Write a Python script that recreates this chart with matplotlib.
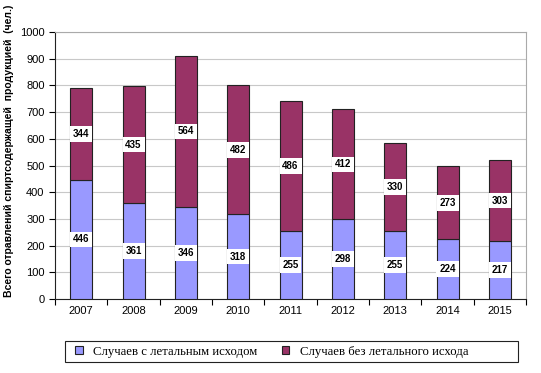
import numpy as np
import matplotlib.pyplot as plt
from matplotlib.patches import Rectangle

years = ['2007', '2008', '2009', '2010', '2011', '2012', '2013', '2014', '2015']
fatal = [446, 361, 346, 318, 255, 298, 255, 224, 217]
nonfatal = [344, 435, 564, 482, 486, 412, 330, 273, 303]

plt.rcParams['font.family'] = ['Liberation Sans', 'DejaVu Sans']

fig = plt.figure(figsize=(5.41, 3.73), dpi=100)
ax = fig.add_axes([0.1017, 0.1984, 0.8706, 0.7158])

x = np.arange(len(years))
w = 0.42
b1 = ax.bar(x, fatal, w, color='#9999ff', edgecolor='#222222', linewidth=0.8,
            label='Случаев с летальным исходом', zorder=3)
b2 = ax.bar(x, nonfatal, w, bottom=fatal, color='#993366', edgecolor='#222222',
            linewidth=0.8, label='Случаев без летального исхода', zorder=3)

box = dict(facecolor='white', edgecolor='none', pad=2)
for i in range(len(years)):
    ax.text(x[i], fatal[i] / 2, str(fatal[i]), ha='center', va='center',
            fontsize=7, fontweight='bold', bbox=box, zorder=4)
    ax.text(x[i], fatal[i] + nonfatal[i] / 2, str(nonfatal[i]), ha='center',
            va='center', fontsize=7, fontweight='bold', bbox=box, zorder=4)

ax.set_xlim(-0.5, len(years) - 0.5)
ax.set_ylim(0, 1000)
ax.set_yticks(np.arange(0, 1001, 100))
ax.yaxis.grid(True, color='#c8c8c8', linewidth=0.8, zorder=0)
ax.set_xticks(x)
ax.set_xticklabels(years, fontsize=8)
ax.set_xticks(np.arange(-0.5, len(years), 1), minor=True)
ax.tick_params(axis='x', which='major', length=0, pad=5)
ax.tick_params(axis='x', which='minor', length=4, width=0.8)
ax.tick_params(axis='y', labelsize=8, length=4, width=0.8)

for s in ['top', 'right']:
    ax.spines[s].set_color('#aaaaaa')
for s in ['left', 'bottom']:
    ax.spines[s].set_color('#222222')

ax.set_ylabel('Всего отравлений спиртсодержащей  продукцией  (чел.)',
              fontsize=7.5, fontweight='bold')
ax.yaxis.set_label_coords(-0.087, 0.554)

# legend frame drawn separately (wide box, text sits to the left)
fig.patches.append(Rectangle((65 / 541, 1 - 362 / 373), 453 / 541, 21 / 373,
                             transform=fig.transFigure, facecolor='white',
                             edgecolor='#222222', linewidth=0.8))
leg = fig.legend(handles=[b1, b2], loc='center left',
                 bbox_to_anchor=(69 / 541, 1 - 351.5 / 373),
                 ncol=2, frameon=False,
                 prop={'family': 'Liberation Serif', 'size': 9.2},
                 handlelength=0.6, handleheight=0.6, columnspacing=1.9,
                 borderpad=0.0, handletextpad=0.8)

fig.savefig('out.png', dpi=100)
